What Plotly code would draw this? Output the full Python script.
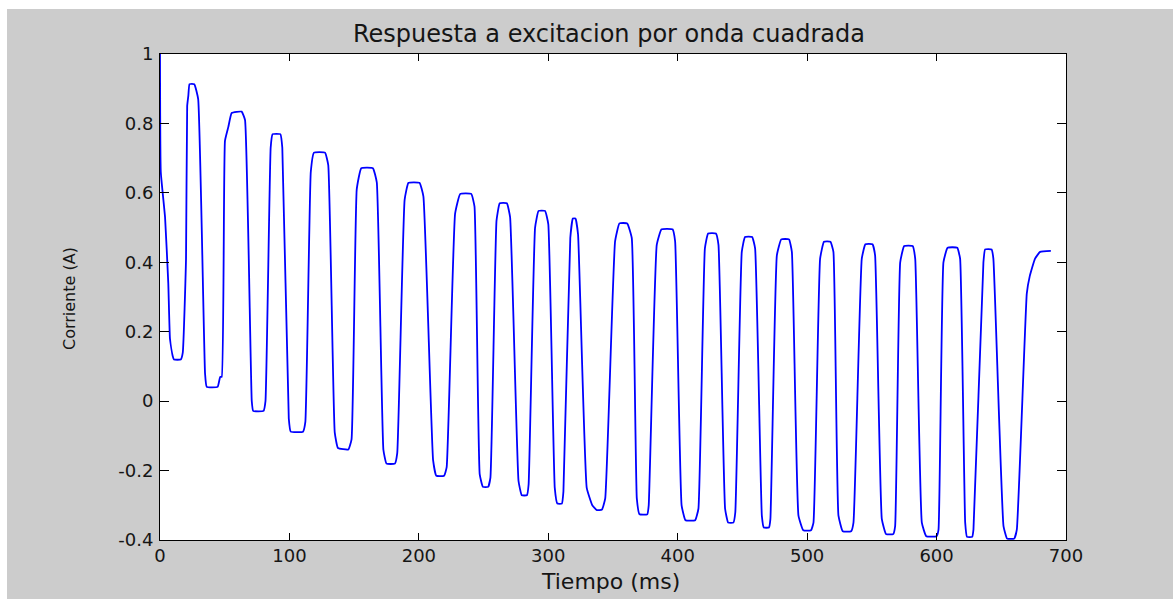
import plotly.graph_objects as go

# ---- data ----
tiempo_ms = [
    0, 0.6, 3.9, 6.4, 7.7,
    9.8, 10.8, 16.0, 17.6, 20.1, 21.0,
    21.9, 22.8, 26.5, 29.5,
    34.8, 36.1, 44.5, 46.5,
    47.7, 50.2, 52.8, 55.4, 63.1, 65.7,
    70.9, 72.0, 80.0, 81.5,
    85.5, 87.0, 93.0, 94.5,
    99.5, 101.0, 110.5, 112.3,
    116.5, 119.0, 127.5, 130.0,
    135.0, 137.5, 145.5, 148.0,
    152.0, 155.5, 164.5, 167.5,
    172.6, 175.0, 181.5, 183.3,
    189.0, 192.0, 200.5, 203.5,
    211.0, 213.5, 219.5, 221.5,
    228.0, 232.0, 240.5, 243.0,
    247.0, 249.5, 253.5, 255.3,
    260.0, 262.5, 268.0, 270.5,
    277.0, 279.5, 283.5, 284.8,
    289.8, 292.5, 297.5, 300.0,
    305.0, 307.0, 310.5, 311.7,
    317.0, 319.0, 321.0, 323.0,
    329.7, 334.0, 337.5, 341.5, 344.0,
    351.6, 355.0, 361.0, 364.5,
    368.4, 370.5, 376.5, 377.6,
    383.8, 387.5, 396.0, 398.0,
    403.0, 406.0, 413.5, 416.0,
    421.0, 423.5, 429.5, 431.5,
    436.6, 439.0, 443.0, 444.5,
    449.5, 452.0, 457.5, 459.8,
    465.0, 466.5, 470.5, 471.6,
    476.6, 480.0, 486.0, 488.2,
    493.3, 497.0, 503.0, 504.9,
    510.0, 513.0, 518.0, 520.3,
    524.2, 527.5, 534.0, 535.8,
    542.2, 545.0, 550.5, 552.5,
    557.7, 561.0, 566.5, 568.0,
    571.9, 575.0, 581.5, 583.5,
    588.6, 592.0, 600.0, 601.5,
    605.3, 608.5, 616.0, 618.2,
    622.1, 623.5, 627.5, 628.5,
    636.2, 637.5, 642.5, 643.9,
    651.7, 654.5, 660.0, 662.0,
    669.7, 672.0, 676.0, 680.0, 688.3,
]

corriente_a = [
    1.0, 0.66, 0.53, 0.34, 0.18,
    0.13, 0.12, 0.12, 0.14, 0.41, 0.85,
    0.88, 0.913, 0.913, 0.87,
    0.08, 0.041, 0.041, 0.07,
    0.07, 0.75, 0.79, 0.83, 0.834, 0.81,
    0.0, -0.028, -0.028, 0.0,
    0.73, 0.769, 0.769, 0.73,
    -0.05, -0.088, -0.088, -0.06,
    0.66, 0.716, 0.716, 0.68,
    -0.09, -0.135, -0.139, -0.11,
    0.61, 0.671, 0.671, 0.63,
    -0.14, -0.18, -0.18, -0.15,
    0.58, 0.629, 0.629, 0.59,
    -0.17, -0.215, -0.215, -0.19,
    0.54, 0.597, 0.597, 0.56,
    -0.21, -0.247, -0.247, -0.22,
    0.52, 0.570, 0.570, 0.53,
    -0.23, -0.271, -0.271, -0.24,
    0.50, 0.548, 0.548, 0.51,
    -0.25, -0.295, -0.295, -0.26,
    0.47, 0.526, 0.526, 0.48,
    -0.25, -0.30, -0.314, -0.312, -0.28,
    0.46, 0.512, 0.512, 0.47,
    -0.28, -0.326, -0.326, -0.30,
    0.45, 0.495, 0.495, 0.46,
    -0.30, -0.343, -0.343, -0.31,
    0.44, 0.483, 0.483, 0.45,
    -0.31, -0.350, -0.350, -0.32,
    0.43, 0.473, 0.473, 0.44,
    -0.33, -0.364, -0.364, -0.34,
    0.42, 0.466, 0.466, 0.43,
    -0.33, -0.372, -0.372, -0.35,
    0.41, 0.459, 0.459, 0.43,
    -0.33, -0.375, -0.375, -0.35,
    0.41, 0.452, 0.452, 0.42,
    -0.34, -0.383, -0.383, -0.36,
    0.40, 0.447, 0.447, 0.41,
    -0.35, -0.389, -0.389, -0.37,
    0.40, 0.442, 0.442, 0.41,
    -0.35, -0.391, -0.391, -0.37,
    0.40, 0.437, 0.437, 0.41,
    -0.36, -0.396, -0.396, -0.37,
    0.31, 0.36, 0.41, 0.43, 0.433,
]

x_ticks = [0, 100, 200, 300, 400, 500, 600, 700]
y_ticks = [-0.4, -0.2, 0, 0.2, 0.4, 0.6, 0.8, 1]
y_tick_text = ["-0.4", "-0.2", "0", "0.2", "0.4", "0.6", "0.8", "1"]

titulo = "Respuesta a excitacion por onda cuadrada"
etiqueta_x = "Tiempo (ms)"
etiqueta_y = "Corriente (A)"

# ---- figure ----
W, H = 1173, 599
ML, MR, MT, MB = 160, 107, 54, 59
PW, PH = W - ML - MR, H - MT - MB

def px_to_paper_x(px):
    return (px - ML) / PW

def px_to_paper_y(py):
    return (H - MB - py) / PH

FONT = "DejaVu Sans"
TXT = "#151515"

fig = go.Figure()
fig.add_trace(go.Scatter(
    x=tiempo_ms, y=corriente_a, mode="lines",
    line=dict(color="#0000ff", width=1.8, shape="spline", smoothing=0.35),
    hoverinfo="skip", showlegend=False,
))

axis_common = dict(
    showline=True, linecolor="black", linewidth=1, mirror="ticks",
    ticks="inside", tickcolor="black", tickwidth=1,
    showgrid=False, zeroline=False,
    tickfont=dict(family=FONT, size=18, color=TXT),
)

fig.update_xaxes(range=[0, 700], tickvals=x_ticks, ticklen=7,
                 ticklabelstandoff=-1, **axis_common)
fig.update_yaxes(range=[-0.4, 1], tickvals=y_ticks, ticktext=y_tick_text,
                 ticklen=9, ticklabelstandoff=2, **axis_common)

# thin white margins at top and left of the picture
fig.add_shape(type="rect", xref="paper", yref="paper", layer="below",
              x0=px_to_paper_x(-5), x1=px_to_paper_x(7),
              y0=px_to_paper_y(H + 5), y1=px_to_paper_y(-5),
              fillcolor="white", line=dict(width=0))
fig.add_shape(type="rect", xref="paper", yref="paper", layer="below",
              x0=px_to_paper_x(-5), x1=px_to_paper_x(W + 5),
              y0=px_to_paper_y(9), y1=px_to_paper_y(-5),
              fillcolor="white", line=dict(width=0))

fig.add_annotation(text=titulo, xref="paper", yref="paper",
                   x=px_to_paper_x(609), y=px_to_paper_y(34), xanchor="center", yanchor="middle",
                   showarrow=False, font=dict(family=FONT, size=24, color=TXT))
fig.add_annotation(text=etiqueta_x, xref="paper", yref="paper",
                   x=px_to_paper_x(610), y=px_to_paper_y(581), xanchor="center", yanchor="middle",
                   showarrow=False, font=dict(family=FONT, size=22, color=TXT))
fig.add_annotation(text=etiqueta_y, xref="paper", yref="paper", textangle=-90,
                   x=px_to_paper_x(69), y=px_to_paper_y(299), xanchor="center", yanchor="middle",
                   showarrow=False, font=dict(family=FONT, size=16, color=TXT))

fig.update_layout(
    width=W, height=H,
    margin=dict(l=ML, r=MR, t=MT, b=MB, pad=0),
    paper_bgcolor="#cccccc", plot_bgcolor="white",
    showlegend=False,
)

fig.write_html("out.html", config={"displayModeBar": False})
